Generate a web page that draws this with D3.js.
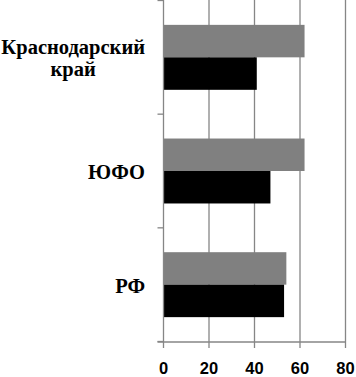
<!DOCTYPE html>
<html><head><meta charset="utf-8">
<script src="https://cdn.jsdelivr.net/npm/d3@7"></script>
<style>body{margin:0;background:#fff}</style>
</head><body>
<svg id="c" width="356" height="377"></svg>
<script>
const categories = [["Краснодарский","край"],["ЮФО"],["РФ"]];
const categoryKeys = ["Краснодарский край","ЮФО","РФ"];
const seriesNames = ["Ряд 2","Ряд 1"];
const seriesGray = [62, 62, 54];
const seriesBlack = [41, 47, 53];
const xTicks = [0,20,40,60,80];

const svg = d3.select("#c");
const x = d3.scaleLinear().domain([0,80]).range([163.5,345.5]);
const y = d3.scaleBand().domain(categoryKeys).range([0.5,341.5]);
const ys = d3.scaleBand().domain(seriesNames).range([0,y.bandwidth()]).paddingOuter(0.75).paddingInner(0);
const colors = {"Ряд 2":"#808080","Ряд 1":"#000000"};
const gridColor = "#868686";

svg.append("g").selectAll("line").data(xTicks.slice(1)).join("line")
  .attr("x1",d=>x(d)).attr("x2",d=>x(d)).attr("y1",0).attr("y2",348)
  .attr("stroke",gridColor).attr("stroke-width",1.3);

const data = categoryKeys.map((c,i)=>({c, vals:[{s:"Ряд 2",v:seriesGray[i]},{s:"Ряд 1",v:seriesBlack[i]}]}));
const g = svg.append("g").selectAll("g").data(data).join("g")
  .attr("transform",d=>`translate(0,${y(d.c)})`);
g.selectAll("rect").data(d=>d.vals).join("rect")
  .attr("x",x(0)).attr("y",d=>ys(d.s)).attr("height",ys.bandwidth())
  .attr("width",d=>x(d.v)-x(0)).attr("fill",d=>colors[d.s]);

svg.append("line").attr("x1",x(0)).attr("x2",x(0)).attr("y1",0).attr("y2",348)
  .attr("stroke",gridColor).attr("stroke-width",1.3);
const bounds = categoryKeys.map(c=>y(c)).concat([y.range()[1]]);
svg.append("g").selectAll("line").data(bounds).join("line")
  .attr("x1",x(0)-6).attr("x2",x(0)).attr("y1",d=>d).attr("y2",d=>d)
  .attr("stroke",gridColor).attr("stroke-width",1.3);
svg.append("line").attr("x1",x(0)-6).attr("x2",x(80)).attr("y1",342).attr("y2",342)
  .attr("stroke",gridColor).attr("stroke-width",1.3);

svg.append("g").selectAll("text").data(xTicks).join("text")
  .attr("font-family","'Liberation Sans', Arial, sans-serif").attr("font-weight","bold").attr("font-size",16.5)
  .attr("x",d=>x(d)).attr("y",374).attr("text-anchor","middle").text(d=>d);

const lab = svg.append("g").selectAll("text").data(categories).join("text")
  .attr("font-family","'Liberation Serif'").attr("font-weight","bold").attr("font-size",20.5)
  .attr("text-anchor","middle");
lab.each(function(lines,i){
  const t = d3.select(this);
  const cy = y(categoryKeys[i]) + y.bandwidth()/2;
  const lh = 22;
  const base = cy + 8 - (lines.length-1)*lh/2;
  lines.forEach((ln,j)=>{
    t.append("tspan").attr("y",base+j*lh).text(ln);
  });
});
lab.each(function(){
  const tsp = d3.select(this).selectAll("tspan");
  let w = 0; tsp.each(function(){ w = Math.max(w, this.getComputedTextLength()); });
  tsp.attr("x", 145 - w/2);
});
</script>
</body></html>
